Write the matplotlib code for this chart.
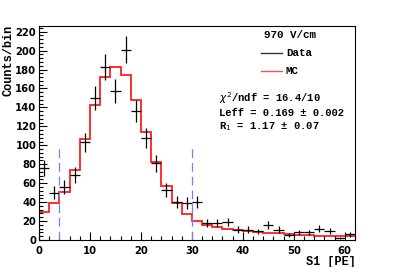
import numpy as np
import matplotlib
matplotlib.use("Agg")
from matplotlib import pyplot as plt
from matplotlib.ticker import MultipleLocator

# data points (bin centres, counts), error = sqrt(N)
data_x = [1, 3, 5, 7, 9, 11, 13, 15, 17, 19, 21, 23, 25, 27, 29, 31,
          33, 35, 37, 39, 41, 43, 45, 47, 49, 51, 53, 55, 57, 59, 61]
data_y = [76, 50, 56, 69, 103, 150, 183, 157, 201, 136, 108, 81, 53, 40, 39, 40,
          18, 18, 19, 11, 11, 9, 16, 11, 5, 8, 8, 12, 10, 2, 6]

# MC histogram, bin edges 0..62 step 2
mc_edges = list(range(0, 64, 2))
mc_vals = [29.6, 39.5, 50.8, 73.4, 106.9, 143, 172.5, 183, 174.2, 147.8, 114.3,
           82.9, 57.5, 39.5, 27.2, 20.5, 16.0, 14.0, 11.6, 10.6, 9.9, 8.1,
           7.8, 7.0, 6.0, 5.3, 5.0, 4.6, 4.2, 4.2, 4.2]

cut_lo, cut_hi = 4, 30
cut_top = 100

W, H = 395, 267
fig = plt.figure(figsize=(W / 100, H / 100), dpi=100)
ax = fig.add_axes([39 / W, 1 - 240 / H, (355 - 39) / W, (240 - 26) / H])

# MC step histogram
ax.stairs(mc_vals, mc_edges, color="#ff2020", lw=1.3, baseline=None)

# data with error bars
dy = np.sqrt(np.array(data_y, dtype=float))
ax.errorbar(data_x, data_y, xerr=1, yerr=dy, fmt="none", ecolor="black",
            elinewidth=0.9, capsize=0)

# cut lines
for xc in (cut_lo, cut_hi):
    ax.plot([xc, xc], [0, cut_top], color="#7b7bff", lw=0.9, ls=(0, (7, 4)))

ax.set_xlim(0, 62)
ax.set_ylim(0, 226)
ax.xaxis.set_major_locator(MultipleLocator(10))
ax.xaxis.set_minor_locator(MultipleLocator(2))
ax.yaxis.set_major_locator(MultipleLocator(20))
ax.yaxis.set_minor_locator(MultipleLocator(4))
ax.tick_params(which="both", direction="in", top=False, right=False, width=0.8)
ax.tick_params(which="major", length=6)
ax.tick_params(axis="x", which="major", pad=4)
ax.tick_params(axis="y", which="major", pad=2)
ax.tick_params(which="minor", length=3)
for lab in ax.get_xticklabels() + ax.get_yticklabels():
    lab.set_fontweight("bold")
    lab.set_fontsize(7.2)
    lab.set_family("DejaVu Sans")
for s in ax.spines.values():
    s.set_linewidth(0.8)

mono = dict(family="Liberation Mono", fontweight="bold")

def fx(px):
    return px / W

def fy(py):
    return 1 - py / H

fig.text(fx(9), fy(25), "Counts/bin", rotation=90, ha="center", va="top",
         fontsize=8.6, **mono)
fig.text(fx(356), fy(262), "S1 [PE]", ha="right", va="center", fontsize=8.6, **mono)

fig.text(fx(290), fy(35), "970 V/cm", ha="center", va="center", fontsize=7.8, **mono)
fig.add_artist(plt.Line2D([fx(261), fx(282)], [fy(53), fy(53)], color="#333333", lw=1.0))
fig.text(fx(286), fy(53), "Data", ha="left", va="center", fontsize=7.8, **mono)
fig.add_artist(plt.Line2D([fx(261), fx(282)], [fy(71), fy(71)], color="#ff5050", lw=1.0))
fig.text(fx(286), fy(71), "MC", ha="left", va="center", fontsize=7.8, **mono)

fig.text(fx(219), fy(98), r"$\chi^2$/ndf = 16.4/10", ha="left", va="center",
         fontsize=7.6, **mono)
fig.text(fx(219), fy(113), "Leff = 0.169 \u00b1 0.002", ha="left", va="center",
         fontsize=7.6, **mono)
fig.text(fx(219), fy(127), "R$_1$ = 1.17 \u00b1 0.07", ha="left", va="center",
         fontsize=7.6, **mono)

fig.savefig("out.png", dpi=100)
